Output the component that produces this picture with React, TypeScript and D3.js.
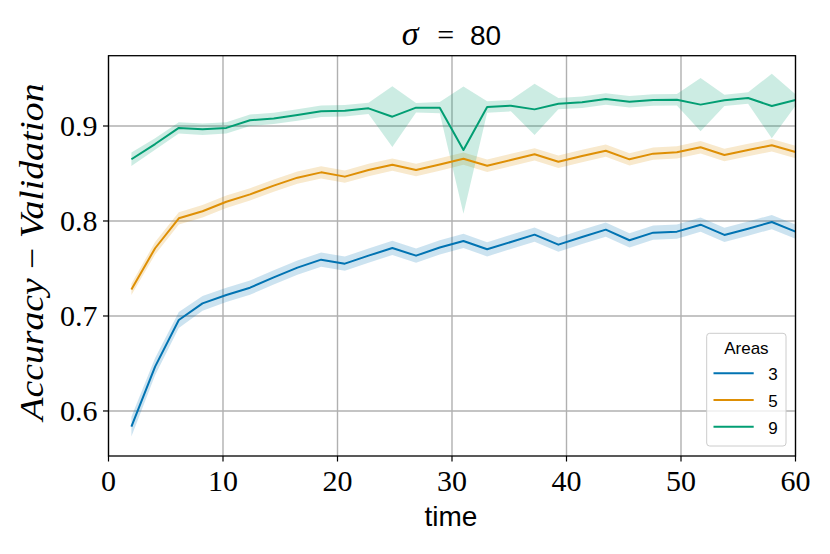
import React from "react";
import * as d3 from "d3";

const times = [2, 4.07, 6.14, 8.21, 10.29, 12.36, 14.43, 16.5, 18.57, 20.64, 22.71, 24.79, 26.86, 28.93, 31, 33.07, 35.14, 37.21, 39.29, 41.36, 43.43, 45.5, 47.57, 49.64, 51.71, 53.79, 55.86, 57.93, 60];

const area3 = [0.5835, 0.6467, 0.6958, 0.7133, 0.7221, 0.7298, 0.7407, 0.7509, 0.7593, 0.7551, 0.7635, 0.7716, 0.7635, 0.7721, 0.779, 0.7702, 0.7779, 0.7856, 0.7751, 0.7832, 0.7909, 0.7797, 0.7877, 0.7888, 0.7961, 0.7853, 0.7919, 0.7989, 0.7888];
const ci3 = [0.0105, 0.009, 0.0085, 0.0078, 0.0075, 0.0075, 0.0075, 0.0075, 0.0075, 0.0075, 0.0075, 0.0075, 0.0075, 0.0075, 0.0075, 0.0075, 0.0075, 0.0075, 0.0075, 0.0075, 0.0075, 0.0075, 0.0075, 0.0075, 0.0075, 0.0075, 0.0075, 0.0075, 0.0075];

const area5 = [0.728, 0.7713, 0.8028, 0.8102, 0.8203, 0.828, 0.8372, 0.8456, 0.8512, 0.8467, 0.8537, 0.8593, 0.8537, 0.8595, 0.8656, 0.8582, 0.8642, 0.8702, 0.8624, 0.8684, 0.874, 0.8649, 0.8709, 0.8723, 0.8776, 0.8695, 0.8747, 0.8797, 0.8726];
const ci5 = [0.006, 0.0065, 0.0065, 0.0065, 0.0065, 0.0065, 0.0065, 0.0065, 0.0065, 0.0065, 0.0065, 0.0065, 0.0065, 0.0065, 0.0065, 0.0065, 0.0065, 0.0065, 0.0065, 0.0065, 0.0065, 0.0065, 0.0065, 0.0065, 0.0065, 0.0065, 0.0065, 0.0065, 0.0065];

const area9 = [0.865, 0.881, 0.898, 0.8965, 0.898, 0.906, 0.908, 0.9115, 0.9155, 0.916, 0.9186, 0.9098, 0.9193, 0.9193, 0.8747, 0.92, 0.9214, 0.9175, 0.9235, 0.925, 0.9284, 0.9256, 0.9274, 0.9277, 0.9225, 0.927, 0.9295, 0.921, 0.9274];
const ci9 = [0.007, 0.006, 0.006, 0.006, 0.006, 0.006, 0.006, 0.006, 0.006, 0.006, 0.006, 0.032, 0.005, 0.006, 0.067, 0.006, 0.006, 0.027, 0.006, 0.006, 0.006, 0.006, 0.006, 0.006, 0.028, 0.006, 0.006, 0.034, 0.006];

const seriesNames = ["3", "5", "9"];
const seriesColors = ["#0173b2", "#de8f05", "#029e73"];
const xTicks = [0, 10, 20, 30, 40, 50, 60];
const yTicks = [0.6, 0.7, 0.8, 0.9];

const W = 830;
const H = 554;
const M = { left: 108.5, right: 795.5, top: 55.7, bottom: 456 };

export default function App() {
  const x = d3.scaleLinear().domain([0, 60]).range([M.left, M.right]);
  const y = d3.scaleLinear().domain([0.5526, 0.974]).range([M.bottom, M.top]);

  const series = [
    { name: seriesNames[0], color: seriesColors[0], mean: area3, ci: ci3 },
    { name: seriesNames[1], color: seriesColors[1], mean: area5, ci: ci5 },
    { name: seriesNames[2], color: seriesColors[2], mean: area9, ci: ci9 },
  ];

  const line = d3
    .line<number>()
    .x((_, i) => x(times[i]))
    .y((d) => y(d));

  const makeArea = (mean: number[], ci: number[]) =>
    d3
      .area<number>()
      .x((_, i) => x(times[i]))
      .y0((d, i) => y(d - ci[i]))
      .y1((d, i) => y(d + ci[i]))(mean) || "";

  const serif = "'Liberation Serif', 'DejaVu Serif', serif";
  const sans = "'Liberation Sans', 'DejaVu Sans', sans-serif";

  const legX = 706.7;
  const legY = 333.3;

  return (
    <svg
      width={W}
      height={H}
      viewBox={`0 0 ${W} ${H}`}
      style={{ position: "absolute", left: 0, top: 0, background: "#fff" }}
    >
      <rect x={0} y={0} width={W} height={H} fill="#fff" />
      {/* grid */}
      <g stroke="#b0b0b0" strokeWidth={1.4}>
        {xTicks.map((t) => (
          <line key={"gx" + t} x1={x(t)} x2={x(t)} y1={M.top} y2={M.bottom} />
        ))}
        {yTicks.map((t) => (
          <line key={"gy" + t} x1={M.left} x2={M.right} y1={y(t)} y2={y(t)} />
        ))}
      </g>
      {/* bands */}
      {series.map((s) => (
        <path key={"b" + s.name} d={makeArea(s.mean, s.ci)} fill={s.color} fillOpacity={0.2} stroke="none" />
      ))}
      {/* lines */}
      {series.map((s) => (
        <path key={"l" + s.name} d={line(s.mean) || ""} fill="none" stroke={s.color} strokeWidth={2} strokeLinejoin="round" />
      ))}
      {/* spines */}
      <rect
        x={M.left}
        y={M.top}
        width={M.right - M.left}
        height={M.bottom - M.top}
        fill="none"
        stroke="#000"
        strokeWidth={1.3}
      />
      {/* x ticks */}
      {xTicks.map((t) => (
        <g key={"xt" + t}>
          <line x1={x(t)} x2={x(t)} y1={M.bottom} y2={M.bottom + 5.5} stroke="#000" strokeWidth={1.2} />
          <text x={x(t)} y={490.7} textAnchor="middle" fontFamily={serif} fontSize={30} fill="#000">
            {t}
          </text>
        </g>
      ))}
      {/* y ticks */}
      {yTicks.map((t) => (
        <g key={"yt" + t}>
          <line x1={M.left - 5.5} x2={M.left} y1={y(t)} y2={y(t)} stroke="#000" strokeWidth={1.2} />
          <text x={97.5} y={y(t) + 10.5} textAnchor="end" fontFamily={serif} fontSize={30} fill="#000">
            {d3.format(".1f")(t)}
          </text>
        </g>
      ))}
      {/* x label */}
      <text x={451} y={526} textAnchor="middle" fontFamily={sans} fontSize={28} fill="#000">
        time
      </text>
      {/* y label */}
      <text
        transform={`translate(43.3, 252) rotate(-90)`}
        textAnchor="middle"
        fontFamily={serif}
        fontSize={33}
        fill="#000"
        textLength={337}
        lengthAdjust="spacingAndGlyphs"
      >
        <tspan fontStyle="italic">Accuracy</tspan>
        <tspan> − </tspan>
        <tspan fontStyle="italic">Validation</tspan>
      </text>
      {/* title */}
      <text x={401.7} y={45} fontFamily={serif} fontStyle="italic" fontSize={34} fill="#000">
        σ
      </text>
      <text x={445.8} y={45} textAnchor="middle" fontFamily={serif} fontSize={30} fill="#000">
        =
      </text>
      <text x={470} y={45} fontFamily={sans} fontSize={28} fill="#000">
        80
      </text>
      {/* legend */}
      <rect x={legX} y={legY} width={79.3} height={112.7} rx={3} fill="#fff" fillOpacity={0.8} stroke="#cccccc" strokeWidth={1} />
      <text x={legX + 39.7} y={354.3} textAnchor="middle" fontFamily={sans} fontSize={17} fill="#000">
        Areas
      </text>
      {series.map((s, i) => {
        const ly = 373.3 + i * 26.7;
        return (
          <g key={"lg" + s.name}>
            <line x1={713.5} x2={753.7} y1={ly} y2={ly} stroke={s.color} strokeWidth={2} />
            <text x={773} y={ly + 7} textAnchor="middle" fontFamily={sans} fontSize={17} fill="#000">
              {s.name}
            </text>
          </g>
        );
      })}
    </svg>
  );
}
